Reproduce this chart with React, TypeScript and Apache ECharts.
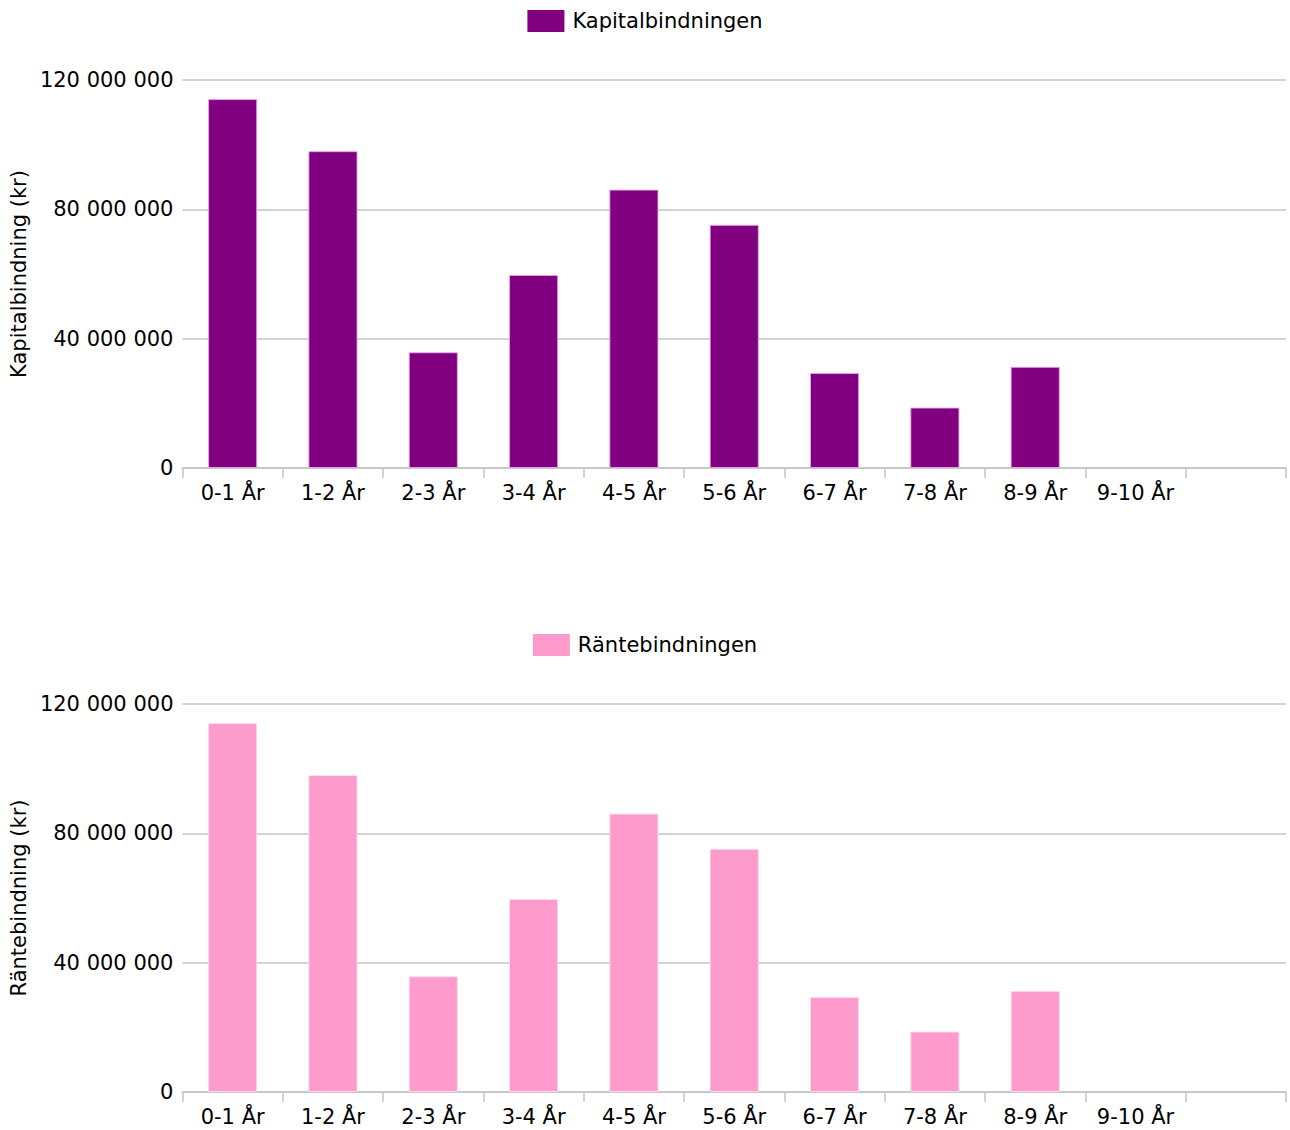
import React, { useEffect, useRef } from "react";
import * as echarts from "echarts";

const categories = ["0-1 År", "1-2 År", "2-3 År", "3-4 År", "4-5 År", "5-6 År", "6-7 År", "7-8 År", "8-9 År", "9-10 År", ""];
const kapitalValues = [114100000, 98000000, 35800000, 59700000, 86100000, 75200000, 29400000, 18700000, 31300000, 0, null];
const ranteValues = [114100000, 98000000, 35800000, 59700000, 86100000, 75200000, 29400000, 18700000, 31300000, 0, null];
const yTicks = { min: 0, max: 120000000, interval: 40000000 };

const FONT = "DejaVu Sans";
const fmt = (v: number) => String(Math.round(v)).replace(/\B(?=(\d{3})+(?!\d))/g, " ");
const toData = (arr: (number | null)[]) =>
  arr.map((v) => (v === 0 ? { value: 0, itemStyle: { borderWidth: 0 } } : v));

export default function App() {
  const ref = useRef<HTMLDivElement>(null);
  useEffect(() => {
    document.body.style.margin = "0";
    const chart = echarts.init(ref.current!, undefined, { renderer: "svg" });
    const xAxisBase = (gridIndex: number) => ({
      type: "category" as const,
      gridIndex,
      data: categories,
      boundaryGap: true,
      axisLine: { lineStyle: { color: "#c4c4c4", width: 1.5 } },
      axisTick: { show: true, length: 10, lineStyle: { color: "#c4c4c4", width: 1.5 } },
      axisLabel: { color: "#000", fontFamily: FONT, fontSize: 21, margin: 14, interval: 0 },
    });
    const yAxisBase = (gridIndex: number, name: string) => ({
      type: "value" as const,
      gridIndex,
      min: yTicks.min,
      max: yTicks.max,
      interval: yTicks.interval,
      name,
      nameLocation: "middle" as const,
      nameGap: 149,
      nameRotate: 90,
      nameTextStyle: { color: "#000", fontFamily: FONT, fontSize: 21 },
      axisLine: { show: false },
      axisTick: { show: false },
      axisLabel: { color: "#000", fontFamily: FONT, fontSize: 21, margin: 9, formatter: (v: number) => fmt(v) },
      splitLine: { lineStyle: { color: "#c4c4c4", width: 1.5 } },
    });
    const legendBase = {
      left: "center",
      icon: "rect",
      itemWidth: 37,
      itemHeight: 22,
      itemGap: 10,
      itemStyle: { borderWidth: 0 },
      textStyle: { color: "#000", fontFamily: FONT, fontSize: 21, padding: [0, 0, 0, 3] },
    };
    chart.setOption({
      animation: false,
      backgroundColor: "#fff",
      legend: [
        { ...legendBase, data: ["Kapitalbindningen"], top: 5 },
        { ...legendBase, data: ["Räntebindningen"], top: 629 },
      ],
      grid: [
        { left: 180, right: 4, top: 80, height: 388 },
        { left: 180, right: 4, top: 704, height: 388 },
      ],
      xAxis: [xAxisBase(0), xAxisBase(1)],
      yAxis: [yAxisBase(0, "Kapitalbindning (kr)"), yAxisBase(1, "Räntebindning (kr)")],
      series: [
        {
          name: "Kapitalbindningen",
          type: "bar",
          xAxisIndex: 0,
          yAxisIndex: 0,
          data: toData(kapitalValues),
          barWidth: "49%",
          itemStyle: { color: "#800080", borderColor: "rgba(230,170,230,0.9)", borderWidth: 1 },
        },
        {
          name: "Räntebindningen",
          type: "bar",
          xAxisIndex: 1,
          yAxisIndex: 1,
          data: toData(ranteValues),
          barWidth: "49%",
          itemStyle: { color: "#fc9bcc", borderColor: "rgba(255,220,238,0.9)", borderWidth: 1 },
        },
      ],
    });
    return () => chart.dispose();
  }, []);
  return <div ref={ref} style={{ width: 1290, height: 1130 }} />;
}
